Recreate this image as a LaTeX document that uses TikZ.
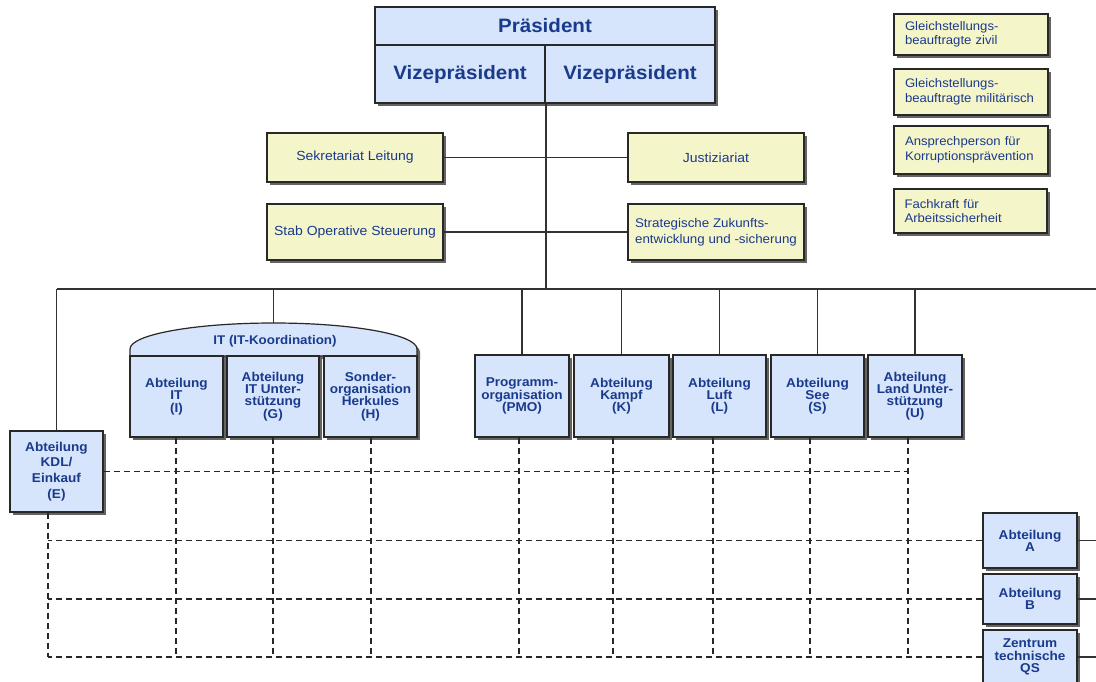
\documentclass[tikz,border=0pt]{standalone}
\usepackage{fontspec}
\setmainfont{Liberation Sans}
\newfontfamily\orgfont[FakeStretch=1.06]{Liberation Sans}
\usetikzlibrary{shadows}
\definecolor{boxblue}{RGB}{214,228,252}
\definecolor{txtblue}{RGB}{26,58,140}
\definecolor{boxyellow}{RGB}{245,245,202}
\definecolor{edge}{RGB}{40,40,40}
\definecolor{shade}{RGB}{100,100,100}
\definecolor{wire}{RGB}{50,50,50}
\tikzset{
  shadowed/.style={drop shadow={shadow xshift=3pt, shadow yshift=-3pt, fill=shade, opacity=1}},
  base/.style={draw=edge, line width=1.2pt, inner sep=0pt, align=center, text=txtblue, shadowed},
  bluebox/.style={base, fill=boxblue, minimum width=93pt, minimum height=81pt,
     font=\orgfont\bfseries\fontsize{12.8}{12.2}\selectfont},
  headbox/.style={base, fill=boxblue, font=\orgfont\bfseries\fontsize{19.4}{21}\selectfont},
  yelbox/.style={base, fill=boxyellow, minimum width=176pt,
     font=\orgfont\fontsize{13.2}{16}\selectfont},
  sidebox/.style={base, fill=boxyellow, minimum width=154pt, text width=132pt, align=left,
     font=\orgfont\fontsize{12.4}{14.5}\selectfont},
  wireline/.style={draw=wire, line width=1.5pt},
  dashline/.style={draw=black!85, line width=1.6pt, dash pattern=on 6pt off 4pt},
}
\begin{document}
\begin{tikzpicture}[x=1pt,y=-1pt]
\clip (0,0) rectangle (1096,681);
\fill[white] (0,0) rectangle (1096,681);

% top management
\node[headbox, minimum width=340pt, minimum height=38pt] (praes) at (545,26) {Präsident};
\node[headbox, minimum width=170pt, minimum height=58pt] (vp1) at (460,74) {Vizepräsident};
\node[headbox, minimum width=170pt, minimum height=58pt] (vp2) at (630,74) {Vizepräsident};

% staff units
\node[yelbox, minimum height=49pt] (sek) at (355,157.5) {Sekretariat Leitung};
\node[yelbox, minimum height=49pt] (jus) at (716,157.5) {Justiziariat};
\node[yelbox, minimum height=56pt] (stab) at (355,232) {Stab Operative Steuerung};
\node[yelbox, minimum height=56pt, align=left, font=\orgfont\fontsize{12.6}{16}\selectfont] (strat) at (716,232) {Strategische Zukunfts-\\entwicklung und -sicherung};

% side boxes
\node[sidebox, minimum height=41pt] (g1) at (971,34.5) {Gleichstellungs-\\beauftragte zivil};
\node[sidebox, minimum height=46pt] (g2) at (971,92) {Gleichstellungs-\\beauftragte militärisch};
\node[sidebox, minimum height=48pt] (ak) at (971,150) {Ansprechperson für\\Korruptionsprävention};
\node[sidebox, minimum height=44pt, minimum width=153pt] (fk) at (970.5,211) {Fachkraft für\\Arbeitssicherheit};

% IT group header
\path[fill=boxblue, draw=edge, line width=1.2pt, shadowed]
  (130,356) -- (130,349) arc[start angle=180, end angle=0, x radius=143.5pt, y radius=26pt] -- (417,356) -- cycle;
\node[text=txtblue, font=\orgfont\bfseries\fontsize{12.6}{13}\selectfont, inner sep=0pt] (ithead) at (275,341) {IT (IT-Koordination)};
\coordinate (ittop) at (273.5,323);

% departments
\node[bluebox, font=\orgfont\bfseries\fontsize{12.8}{15.7}\selectfont] (kdl) at (56.5,471.5) {Abteilung\\KDL/\\Einkauf\\(E)};
\node[bluebox] (itI) at (176.5,396.5) {Abteilung\\IT\\(I)};
\node[bluebox, minimum width=92pt] (itG) at (273,396.5) {Abteilung\\IT Unter-\\stützung\\(G)};
\node[bluebox] (itH) at (370.5,396.5) {Sonder-\\organisation\\Herkules\\(H)};
\node[bluebox, minimum width=94pt, minimum height=82pt] (pmo) at (522,396) {Programm-\\organisation\\(PMO)};
\node[bluebox, minimum width=95pt, minimum height=82pt] (kampf) at (621.5,396) {Abteilung\\Kampf\\(K)};
\node[bluebox, minimum height=82pt] (luft) at (719.5,396) {Abteilung\\Luft\\(L)};
\node[bluebox, minimum height=82pt] (see) at (817.5,396) {Abteilung\\See\\(S)};
\node[bluebox, minimum width=94pt, minimum height=82pt] (land) at (915,396) {Abteilung\\Land Unter-\\stützung\\(U)};
\node[bluebox, minimum width=94pt, minimum height=55pt] (abtA) at (1030,540.5) {Abteilung\\A};
\node[bluebox, minimum width=94pt, minimum height=50pt] (abtB) at (1030,599) {Abteilung\\B};
\node[bluebox, minimum width=94pt, minimum height=54pt] (zent) at (1030,657) {Zentrum\\technische\\QS};

% solid connectors
\coordinate (busL) at (57,289);
\coordinate (busR) at (1096,289);
\draw[wireline, line width=1.8pt] (vp1.south east) -- (vp1.south east |- busL);
\draw[wireline] (sek.east) -- (jus.west);
\draw[wireline] (stab.east) -- (strat.west);
\draw[wireline] (busL) -- (busR);
\draw[wireline] (kdl.north) -- (kdl.north |- busL);
\draw[wireline] (ittop) -- (ittop |- busL);
\foreach \n in {pmo,kampf,luft,see,land}
  \draw[wireline] (\n.north) -- (\n.north |- busL);
\foreach \n in {abtA,abtB,zent}
  \draw[wireline] (\n.east) -- (\n.east -| busR);

% dashed matrix
\coordinate (dE) at (48,657);
\coordinate (dI) at (176,657);
\coordinate (dG) at (273,657);
\coordinate (dH) at (371,657);
\coordinate (dP) at (519,657);
\coordinate (dK) at (613,657);
\coordinate (dL) at (713,657);
\coordinate (dS) at (810,657);
\coordinate (dU) at (908,657);
\draw[dashline] (kdl.south -| dE) -- (dE);
\draw[dashline] (itI.south -| dI) -- (dI);
\draw[dashline] (itG.south -| dG) -- (dG);
\draw[dashline] (itH.south -| dH) -- (dH);
\draw[dashline] (pmo.south -| dP) -- (dP);
\draw[dashline] (kampf.south -| dK) -- (dK);
\draw[dashline] (luft.south -| dL) -- (dL);
\draw[dashline] (see.south -| dS) -- (dS);
\draw[dashline] (land.south -| dU) -- (dU);
\draw[dashline] (kdl.east) -- (kdl.east -| dU);
\draw[dashline] (abtA.west) -- (abtA.west -| dE);
\draw[dashline] (abtB.west) -- (abtB.west -| dE);
\draw[dashline] (zent.west) -- (zent.west -| dE);
\end{tikzpicture}
\end{document}
